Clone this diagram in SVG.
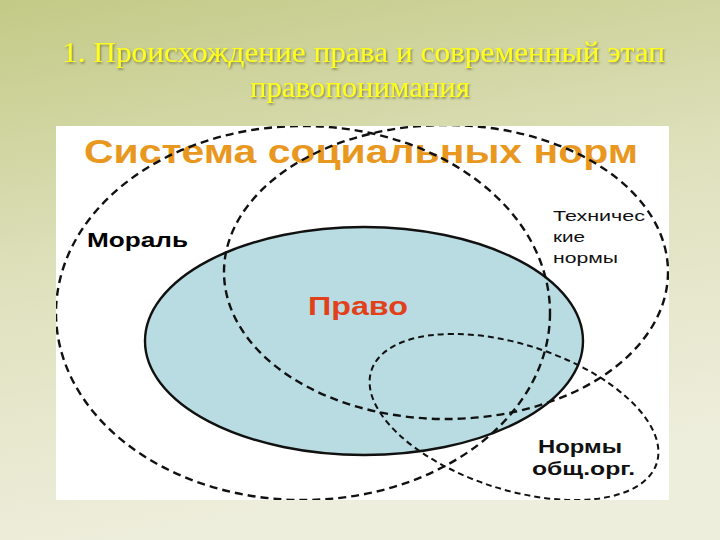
<svg xmlns="http://www.w3.org/2000/svg" width="720" height="540" viewBox="0 0 720 540">
  <defs>
    <linearGradient id="bg" x1="0" y1="0" x2="0.25" y2="1">
      <stop offset="0" stop-color="#c3ca86"/>
      <stop offset="0.5" stop-color="#dfe1bd"/>
      <stop offset="1" stop-color="#eeeedd"/>
    </linearGradient>
    <clipPath id="panel">
      <rect x="56" y="126" width="613" height="374"/>
    </clipPath>
    <filter id="shadow" x="-5%" y="-20%" width="110%" height="150%">
      <feDropShadow dx="1" dy="1.5" stdDeviation="0.8" flood-color="#5a5a2a" flood-opacity="0.7"/>
    </filter>
  </defs>
  <style>
    .title { font-family: "Liberation Serif", "Times New Roman", serif; font-size: 29px; fill: #ffff1a; }
    .sans { font-family: "Liberation Sans", Arial, sans-serif; }
    .big { font-size: 33px; font-weight: bold; fill: #e9981f; }
    .lbl { font-size: 21px; font-weight: bold; fill: #000; }
    .lbl2 { font-size: 19px; font-weight: bold; fill: #111; }
    .small { font-size: 15.5px; fill: #111; }
    .law { font-size: 25px; font-weight: bold; fill: #e2401a; }
    .dash { fill: none; stroke: #111; stroke-width: 2.4; stroke-dasharray: 8 5; }
    .dash2 { fill: none; stroke: #111; stroke-width: 2; stroke-dasharray: 6 4; }
    .solid { fill: none; stroke: #111; stroke-width: 2.4; }
  </style>

  <rect x="0" y="0" width="720" height="540" fill="url(#bg)"/>

  <g id="title" filter="url(#shadow)">
    <text class="title" x="62" y="62" textLength="603" lengthAdjust="spacingAndGlyphs">1. Происхождение права и современный этап</text>
    <text class="title" x="250" y="97" textLength="220" lengthAdjust="spacingAndGlyphs">правопонимания</text>
  </g>

  <rect x="56" y="126" width="613" height="374" fill="#ffffff"/>

  <text id="system-title" class="sans big" x="84" y="163" textLength="554" lengthAdjust="spacingAndGlyphs">Система социальных норм</text>

  <g clip-path="url(#panel)">
    <g id="law-fill">
      <ellipse cx="364" cy="341" rx="219" ry="114" fill="#b9dce2"/>
    </g>
    <g id="moral">
      <ellipse class="dash" cx="303" cy="313" rx="247" ry="187"/>
    </g>
    <g id="technical">
      <ellipse class="dash" cx="446" cy="272" rx="222" ry="147"/>
    </g>
    <g id="public-org">
      <ellipse class="dash2" cx="514" cy="417" rx="150" ry="72.5" transform="rotate(18 514 417)"/>
    </g>
    <g id="law">
      <ellipse class="solid" cx="364" cy="341" rx="219" ry="114"/>
      <text class="sans law" x="308" y="315" textLength="100" lengthAdjust="spacingAndGlyphs">Право</text>
    </g>
  </g>

  <g id="moral-label">
    <text class="sans lbl" x="87" y="247" textLength="101" lengthAdjust="spacingAndGlyphs">Мораль</text>
  </g>
  <g id="technical-label">
    <text class="sans small" x="553" y="221" textLength="92" lengthAdjust="spacingAndGlyphs">Техничес</text>
    <text class="sans small" x="553" y="242" textLength="32" lengthAdjust="spacingAndGlyphs">кие</text>
    <text class="sans small" x="553" y="263" textLength="65" lengthAdjust="spacingAndGlyphs">нормы</text>
  </g>
  <g id="public-org-label">
    <text class="sans lbl2" x="538" y="453" textLength="84" lengthAdjust="spacingAndGlyphs">Нормы</text>
    <text class="sans lbl2" x="532" y="475" textLength="103" lengthAdjust="spacingAndGlyphs">общ.орг.</text>
  </g>
</svg>
